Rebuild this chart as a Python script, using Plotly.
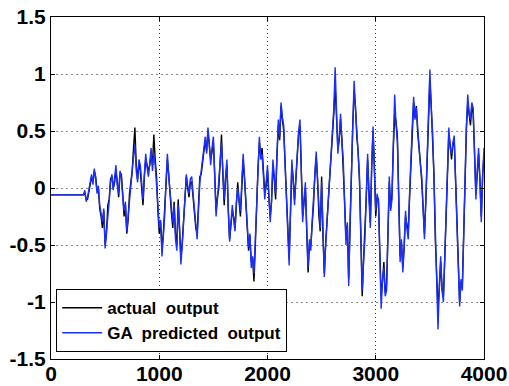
import plotly.graph_objects as go

# flat section before the signal starts
flat_x = [0, 300]
flat_y = [-0.06, -0.06]

# signal samples, one every 12.5 time steps starting at 300
predicted = [
    -0.06, -0.02, -0.12, -0.08, 0.00, 0.05, 0.12, 0.03, 0.17, 0.08, -0.05, 0.02, -0.15, -0.22, -0.30, -0.18, -0.53, -0.38, -0.20, -0.12,
    0.05, 0.12, -0.02, 0.08, 0.20, 0.02, -0.05, 0.15, 0.10, -0.08, -0.20, -0.12, -0.38, -0.25, -0.10, 0.02, 0.12, 0.28, 0.38, 0.15,
    0.05, 0.25, 0.20, 0.02, -0.10, 0.12, 0.30, 0.18, 0.10, 0.22, 0.35, 0.15, 0.30, 0.20, 0.05, -0.15, -0.35, -0.28, -0.60, -0.45,
    -0.25, 0.05, 0.30, 0.10, -0.05, -0.20, -0.30, -0.15, -0.45, -0.55, -0.15, -0.35, -0.67, -0.50, -0.30, -0.05, 0.12, 0.02, -0.05, 0.08,
    0.10, -0.05, -0.20, -0.32, -0.45, -0.20, 0.05, 0.15, 0.25, 0.35, 0.45, 0.30, 0.53, 0.38, 0.20, 0.35, 0.45, 0.10, -0.25, -0.10,
    0.05, 0.20, 0.40, 0.15, -0.10, 0.10, 0.25, -0.20, -0.47, -0.30, -0.15, -0.28, -0.38, -0.12, 0.00, -0.10, -0.20, 0.05, 0.30, 0.10,
    -0.10, -0.35, -0.52, -0.40, -0.70, -0.60, -0.75, -0.45, -0.10, 0.20, 0.45, 0.25, 0.30, 0.10, -0.10, 0.05, 0.20, -0.05, -0.30, -0.10,
    0.25, 0.10, -0.05, 0.30, 0.60, 0.45, 0.75, 0.62, 0.55, 0.20, -0.10, -0.40, -0.68, -0.20, 0.25, 0.05, -0.15, 0.10, 0.35, 0.50,
    0.60, 0.15, -0.30, -0.10, 0.05, -0.35, -0.70, -0.45, -0.55, -0.30, -0.10, 0.15, 0.32, 0.05, -0.20, -0.35, 0.05, -0.40, -0.78, -0.50,
    -0.30, -0.10, 0.05, 0.30, 0.50, 0.70, 1.06, 0.55, 0.30, 0.45, 0.65, 0.40, 0.25, -0.15, -0.50, -0.30, -0.86, -0.30, 0.20, 0.60,
    0.94, 0.70, 0.50, 0.35, 0.10, -0.40, -0.90, -0.65, -0.45, -0.05, 0.30, -0.10, -0.35, 0.20, 0.54, 0.15, -0.20, -0.05, -0.12, -0.60,
    -1.06, -0.80, -0.70, -0.95, -0.90, -0.40, 0.10, -0.20, -0.10, 0.40, 0.82, 0.55, 0.40, -0.10, -0.65, -0.45, -0.74, -0.50, -0.20, -0.35,
    -0.45, -0.05, 0.30, 0.55, 0.80, 0.60, 0.70, 0.50, 0.35, 0.20, 0.10, -0.20, -0.45, -0.10, 0.30, 0.65, 1.04, 0.70, 0.50, 0.10,
    -0.40, -0.90, -1.24, -0.85, -0.60, -0.90, -1.00, -0.60, -0.20, 0.20, 0.53, 0.35, 0.30, 0.40, 0.46, 0.05, -0.30, -0.70, -1.04, -0.80,
    -0.90, -0.40, 0.20, 0.55, 0.82, 0.65, 0.60, 0.75, 0.70, 0.30, -0.10, 0.15, 0.35, 0.05, -0.30, 0.10, 0.35,
]

actual = [
    -0.06, -0.04, -0.10, -0.10, -0.03, 0.03, 0.10, 0.05, 0.15, 0.10, -0.02, 0.00, -0.18, -0.25, -0.35, -0.20, -0.50, -0.40, -0.15, -0.10,
    0.08, 0.10, 0.00, 0.05, 0.15, 0.05, -0.08, 0.12, 0.12, -0.05, -0.25, -0.15, -0.40, -0.28, -0.05, 0.05, 0.15, 0.35, 0.53, 0.20,
    0.08, 0.22, 0.15, 0.00, -0.15, 0.10, 0.25, 0.20, 0.15, 0.20, 0.30, 0.20, 0.47, 0.25, 0.10, -0.20, -0.40, -0.30, -0.53, -0.40,
    -0.20, 0.02, 0.25, 0.12, -0.10, -0.22, -0.35, -0.12, -0.40, -0.50, -0.10, -0.32, -0.62, -0.48, -0.25, -0.08, 0.10, 0.00, -0.08, 0.05,
    0.05, -0.08, -0.25, -0.35, -0.40, -0.18, 0.10, 0.12, 0.20, 0.32, 0.42, 0.32, 0.50, 0.40, 0.25, 0.32, 0.40, 0.12, -0.20, -0.08,
    0.00, 0.22, 0.47, 0.12, -0.15, 0.08, 0.20, -0.18, -0.45, -0.32, -0.20, -0.25, -0.35, -0.15, 0.05, -0.12, -0.25, 0.00, 0.25, 0.08,
    -0.15, -0.38, -0.55, -0.42, -0.65, -0.62, -0.82, -0.50, -0.05, 0.18, 0.40, 0.28, 0.35, 0.12, -0.05, 0.02, 0.15, -0.08, -0.25, -0.12,
    0.20, 0.08, -0.10, 0.28, 0.55, 0.42, 0.72, 0.60, 0.50, 0.22, -0.05, -0.38, -0.62, -0.22, 0.20, 0.08, -0.10, 0.08, 0.30, 0.48,
    0.55, 0.18, -0.25, -0.12, 0.00, -0.38, -0.74, -0.48, -0.50, -0.32, -0.15, 0.12, 0.28, 0.08, -0.25, -0.38, 0.10, -0.42, -0.75, -0.48,
    -0.25, -0.12, 0.10, 0.28, 0.45, 0.65, 0.90, 0.58, 0.35, 0.42, 0.60, 0.42, 0.20, -0.12, -0.45, -0.32, -0.80, -0.32, 0.15, 0.55,
    0.85, 0.72, 0.45, 0.32, 0.05, -0.45, -0.95, -0.62, -0.40, -0.08, 0.25, -0.08, -0.30, 0.18, 0.50, 0.18, -0.25, -0.08, -0.10, -0.55,
    -0.95, -0.82, -0.65, -0.92, -0.85, -0.42, 0.05, -0.18, -0.05, 0.35, 0.65, 0.58, 0.45, -0.08, -0.60, -0.48, -0.70, -0.52, -0.25, -0.32,
    -0.40, -0.08, 0.25, 0.52, 0.75, 0.62, 0.72, 0.48, 0.30, 0.22, 0.05, -0.22, -0.40, -0.12, 0.25, 0.62, 0.95, 0.72, 0.45, 0.12,
    -0.45, -0.85, -1.05, -0.88, -0.65, -0.88, -0.95, -0.62, -0.25, 0.18, 0.48, 0.38, 0.25, 0.38, 0.42, 0.08, -0.25, -0.68, -1.00, -0.82,
    -0.85, -0.42, 0.15, 0.52, 0.75, 0.62, 0.55, 0.72, 0.65, 0.32, -0.05, 0.12, 0.30, 0.08, -0.25, 0.12, 0.30,
]

signal_start = 300
signal_step = 12.5

x_ticks = [0, 1000, 2000, 3000, 4000]
x_tick_text = ["0", "1000", "2000", "3000", "4000"]
y_ticks = [-1.5, -1.0, -0.5, 0.0, 0.5, 1.0, 1.5]
y_tick_text = ["-1.5", "-1", "-0.5", "0", "0.5", "1", "1.5"]

series_names = ["actual  output", "GA  predicted  output"]


def series_xy(values):
    xs = [signal_start + signal_step * i for i in range(len(values))]
    return flat_x + xs[1:], flat_y + values[1:]


fig = go.Figure()
ax, ay = series_xy(actual)
px_, py_ = series_xy(predicted)
fig.add_trace(go.Scatter(
    x=ax, y=ay, mode="lines",
    name=series_names[0], line=dict(color="black", width=1.4),
))
fig.add_trace(go.Scatter(
    x=px_, y=py_, mode="lines",
    name=series_names[1], line=dict(color="#1a2eff", width=1.4),
))

font_family = "Liberation Sans, Arial, sans-serif"

fig.update_layout(
    width=509, height=386,
    margin=dict(l=51, r=25, t=17, b=27),
    paper_bgcolor="white", plot_bgcolor="white",
    showlegend=True,
    legend=dict(
        x=0.012, y=0.02, xanchor="left", yanchor="bottom",
        bgcolor="white", bordercolor="black", borderwidth=1,
        font=dict(family=font_family, size=17, color="black", weight="bold"),
        tracegroupgap=0, itemwidth=40,
    ),
    xaxis=dict(
        range=[0, 4000], tickvals=x_ticks, ticktext=x_tick_text,
        tickfont=dict(family=font_family, size=21, color="black", weight="bold"),
        showline=True, linecolor="black", linewidth=1, mirror="ticks",
        ticks="inside", ticklen=4, tickcolor="black",
        showgrid=True, gridcolor="#333", griddash="1px,3px", gridwidth=1,
        zeroline=False, automargin=False,
        ticklabeloverflow="allow", ticklabelstandoff=-4,
    ),
    yaxis=dict(
        range=[-1.5, 1.5], tickvals=y_ticks, ticktext=y_tick_text,
        tickfont=dict(family=font_family, size=21, color="black", weight="bold"),
        showline=True, linecolor="black", linewidth=1, mirror="ticks",
        ticks="inside", ticklen=4, tickcolor="black",
        showgrid=True, gridcolor="#888", griddash="2px,3px", gridwidth=1,
        zeroline=False, automargin=False,
        ticklabeloverflow="allow",
    ),
)

# remove the page's default body margin so the figure fills the window exactly
fig.write_html(
    "out.html",
    config={"displayModeBar": False},
    post_script="document.body.style.margin='0';",
)
